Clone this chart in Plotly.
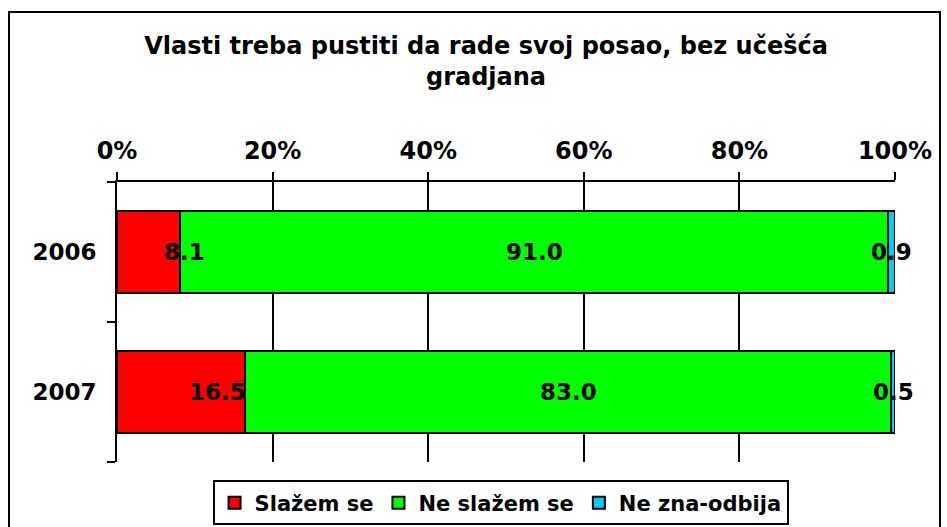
import plotly.graph_objects as go

years = ["2006", "2007"]
series_names = ["Slažem se", "Ne slažem se", "Ne zna-odbija"]
slazem = [8.1, 16.5]
ne_slazem = [91.0, 83.0]
ne_zna = [0.9, 0.5]
colors = ["#FF0000", "#00FF00", "#00CCFF"]
x_ticks = [0, 20, 40, 60, 80, 100]
x_tick_labels = ["0%", "20%", "40%", "60%", "80%", "100%"]
title_text = "Vlasti treba pustiti da rade svoj posao, bez učešća<br>gradjana"

FONT = "DejaVu Sans"
values = [slazem, ne_slazem, ne_zna]
ypos = list(range(len(years)))

fig = go.Figure()
for name, vals, col in zip(series_names, values, colors):
    fig.add_trace(go.Bar(
        y=ypos, x=vals, name=name, orientation="h",
        marker=dict(color=col, line=dict(color="black", width=2)),
        width=0.59,
    ))

# data labels
annotations = []
for i, yp in enumerate(ypos):
    cum = 0
    for s, vals in enumerate(values):
        v = vals[i]
        center = cum + v / 2
        annotations.append(dict(
            x=center, y=yp, xref="x", yref="y", text=f"{v:.1f}",
            showarrow=False, xshift=36 if s == 0 else 0,
            font=dict(family=FONT, size=23, color="black", weight="bold"),
        ))
        cum += v

fig.update_layout(
    width=947, height=527,
    barmode="stack",
    paper_bgcolor="white", plot_bgcolor="white",
    margin=dict(l=117, r=52, t=182, b=65, autoexpand=False),
    title=dict(text=title_text, x=486 / 947, xanchor="center", y=0.897, yanchor="top",
               font=dict(family=FONT, size=24, color="black", weight="bold")),
    xaxis=dict(side="top", range=[0, 100], tickvals=x_ticks, ticktext=x_tick_labels,
               showgrid=True, gridcolor="black", gridwidth=2,
               showline=True, linecolor="black", linewidth=2,
               ticks="outside", ticklen=8, tickwidth=2, tickcolor="black",
               tickfont=dict(family=FONT, size=24, color="black", weight="bold"),
               ticklabelstandoff=3,
               zeroline=False, automargin=False),
    yaxis=dict(range=[1.5, -0.5], tickvals=ypos, ticktext=years,
               showline=True, linecolor="black", linewidth=2,
               ticks="", showgrid=False, zeroline=False, automargin=False,
               minor=dict(tick0=0.5, dtick=1, ticks="outside", ticklen=8,
                          tickwidth=2, tickcolor="black", showgrid=False),
               tickfont=dict(family=FONT, size=23, color="black", weight="bold"),
               ticklabelstandoff=14),
    legend=dict(orientation="h", x=0.493, xanchor="center", y=-0.066, yanchor="top",
                bordercolor="black", borderwidth=2, bgcolor="white",
                font=dict(family=FONT, size=21, color="black", weight="bold"),
                traceorder="normal"),
    annotations=annotations,
    showlegend=True,
)

# outer chart border
fig.add_shape(type="rect", xref="paper", yref="paper",
              x0=(9 - 117) / 778, x1=(940 - 117) / 778,
              y0=-(540 - 462) / 280, y1=(462 - 12) / 280,
              line=dict(color="black", width=2), fillcolor="rgba(0,0,0,0)", layer="below")

fig.write_html("out.html", config={"displayModeBar": False},
               post_script="document.body.style.margin='0';document.body.style.overflow='hidden';")
